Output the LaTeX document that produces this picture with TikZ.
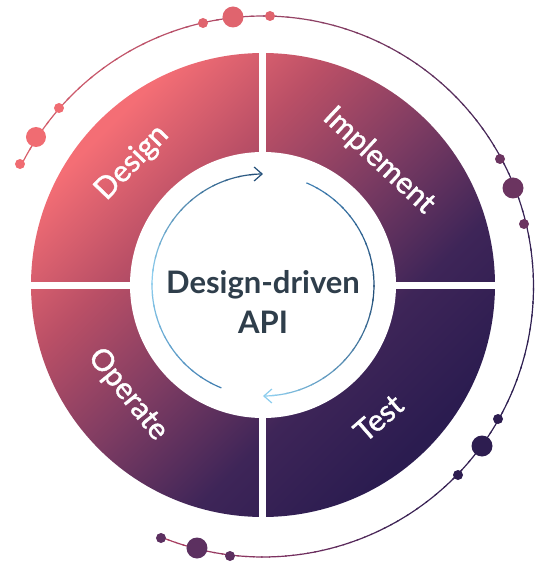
\documentclass[tikz,border=0pt]{standalone}
\usepackage{fontspec}
\setmainfont{Lato}
\newfontfamily\ringfont{Lato}[FakeBold=1.5]
\usetikzlibrary{arrows.meta}

% ring colours (top left to bottom right)
\definecolor{ringA}{HTML}{F46E75}
\definecolor{ringB}{HTML}{B94F66}
\definecolor{ringC}{HTML}{7C3B62}
\definecolor{ringD}{HTML}{3E2558}
\definecolor{ringE}{HTML}{2B1C50}
\pgfdeclareverticalshading{ringfade}{100bp}{color(0bp)=(ringE); color(26bp)=(ringE); color(38bp)=(ringD); color(50bp)=(ringC); color(62bp)=(ringB); color(74bp)=(ringA); color(100bp)=(ringA)}

% outer arc colours
\definecolor{arcA}{HTML}{D8606C}
\definecolor{arcB}{HTML}{B04C68}
\definecolor{arcC}{HTML}{6A3460}
\definecolor{arcD}{HTML}{3A2456}
\definecolor{arcE}{HTML}{2C1E50}
\definecolor{arcF}{HTML}{3E2456}
\definecolor{arcG}{HTML}{7A3060}
\definecolor{arcH}{HTML}{B04262}

% dots
\definecolor{dotpink}{HTML}{F06C72}
\definecolor{dotrose}{HTML}{E0646E}
\definecolor{dotplum}{HTML}{6B3460}
\definecolor{dotnavy}{HTML}{2D1D50}
\definecolor{dotwine}{HTML}{5C3060}

% inner arrows
\definecolor{arwlight}{HTML}{8CCDEE}
\definecolor{arwmid}{HTML}{4280B2}
\definecolor{arwdark}{HTML}{24507A}
\definecolor{apitext}{HTML}{2F3E4B}

\begin{document}
\begin{tikzpicture}[x=1pt,y=1pt,
    ringlabel/.style={text=white,font=\ringfont\fontsize{30}{34}\selectfont},
    arwtip/.style={-{Straight Barb[length=8pt,width=14pt]}}]
  \useasboundingbox (-263,-280) rectangle (275,285);

  % ring
  \shade[shading=ringfade,shading angle=45] (0,0) circle (232);
  \fill[white] (0,0) circle (133);
  \draw[white,line width=7pt] (-240,0) -- (240,0);
  \draw[white,line width=7pt] (0,-240) -- (0,240);

  \node[ringlabel,rotate=46] (design) at (137:179) {Design};
  \node[ringlabel,rotate=-43] (implement) at (47:170) {Implement};
  \node[ringlabel,rotate=-51] (operate) at (219:174) {Operate};
  \node[ringlabel,rotate=41] (test) at (-49:176) {Test};

  \node[text=apitext,align=center,font=\bfseries\fontsize{31}{40}\selectfont] (api) at (0,-16.5) {Design-driven\\API};

  % outer arc
  \begin{scope}[shift={(0,-1.5)}]
    \foreach \sa/\sb/\ca/\cb in {153/100/arcA/arcB,100/60/arcB/arcC,60/25/arcC/arcD,25/-20/arcD/arcE,-20/-60/arcE/arcF,-60/-85/arcF/arcG,-85/-112/arcG/arcH}{
      \foreach \i in {0,...,15}{
        \pgfmathtruncatemacro\p{100*\i/16}
        \pgfmathsetmacro\angA{\sa+(\sb-\sa)*\i/16}
        \pgfmathsetmacro\angB{\sa+(\sb-\sa)*(\i+1.2)/16}
        \draw[line width=1.2pt,draw=\cb!\p!\ca] (\angA:270.5) arc[start angle=\angA,end angle=\angB,radius=270.5];
      }
    }
  \end{scope}

  \foreach \px/\py/\r/\c in {-243/121/5/dotpink,-227/148/10/dotpink,-204/177/5/dotpink,
      -60/262/5/dotrose,-30/268/10.5/dotrose,7/269/5/dotrose,
      237/126/5/dotplum,250/97/10.5/dotplum,261/61/5/dotplum,
      235/-134/5/dotnavy,219/-161/10.5/dotnavy,195/-190/5/dotnavy,
      -102/-253/5/dotwine,-66/-263/10.5/dotwine,-33/-271/5/dotwine}
    \fill[\c] (\px,\py) circle (\r);

  % inner arrows
  \foreach \sa/\sb/\ca/\cb in {248/180/arwmid/arwlight,180/96/arwlight/arwdark,67/0/arwmid/arwdark,0/-84/arwdark/arwlight}{
    \foreach \i in {0,...,11}{
      \pgfmathtruncatemacro\p{100*\i/12}
      \pgfmathsetmacro\angA{\sa+(\sb-\sa)*\i/12}
      \pgfmathsetmacro\angB{\sa+(\sb-\sa)*(\i+1.2)/12}
      \draw[line width=1.2pt,draw=\cb!\p!\ca] (\angA:111) arc[start angle=\angA,end angle=\angB,radius=111];
    }
  }
  \draw[line width=1.2pt,arwdark,arwtip] (97:111) arc[start angle=97,end angle=90,radius=111];
  \draw[line width=1.2pt,arwlight,arwtip] (-83:111) arc[start angle=-83,end angle=-90,radius=111];
\end{tikzpicture}
\end{document}
